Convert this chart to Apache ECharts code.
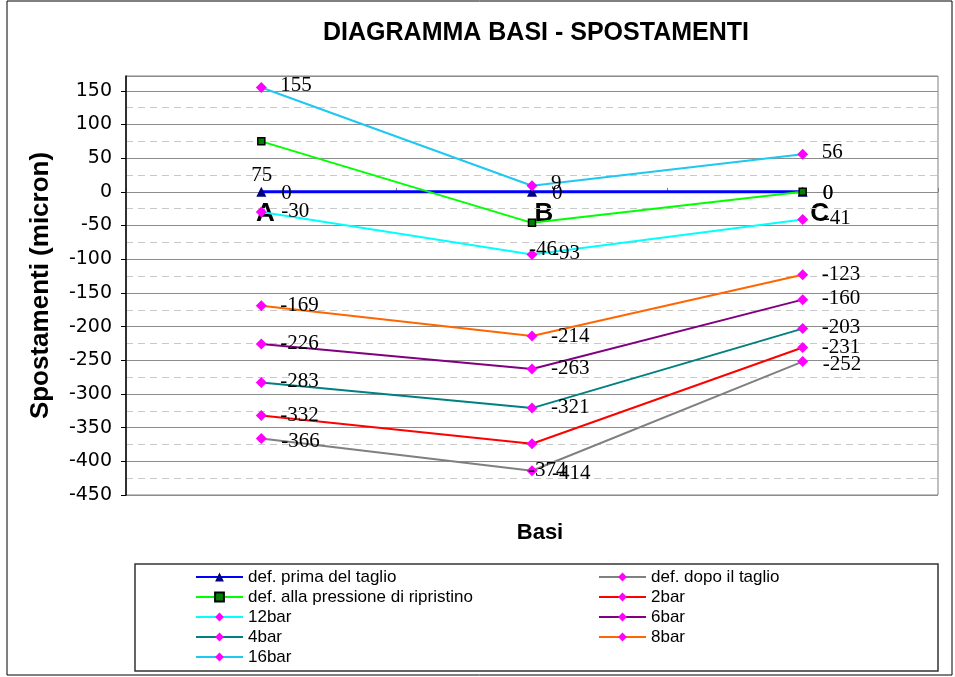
<!DOCTYPE html>
<html>
<head>
<meta charset="utf-8">
<title>Diagramma basi - spostamenti</title>
<script src="https://cdn.jsdelivr.net/npm/echarts@6/dist/echarts.min.js"></script>
<style>
  html, body { margin: 0; padding: 0; background: #ffffff; }
  #chart { width: 955px; height: 677px; }
</style>
</head>
<body>
<div id="chart"></div>
<script>
// ---- data ----
const categories = ['A', 'B', 'C'];

const yMin = -450;
const yMax = 172;
const yStep = 50;
const yMinorStep = 25;

const defPrimaDelTaglio = [0, 0, 0];
const defDopoIlTaglio = [-366, -414, -252];
const defPressioneRipristino = [75, -46, 0];
const bar2 = [-332, -374, -231];
const bar12 = [-30, -93, -41];
const bar6 = [-226, -263, -160];
const bar4 = [-283, -321, -203];
const bar8 = [-169, -214, -123];
const bar16 = [155, 9, 56];

const NAME_PRIMA = 'def. prima del taglio';
const NAME_DOPO = 'def. dopo il taglio';
const NAME_PRESS = 'def. alla pressione di ripristino';

// ---- styling ----
const SANS = "'Liberation Sans', Arial, sans-serif";
const SERIF = "'Liberation Serif', 'Times New Roman', serif";

const seriesDefs = [
  { name: NAME_PRIMA, values: defPrimaDelTaglio, line: '#0000ff', width: 3, symbol: 'triangle', size: 10, fill: '#000080', border: '#000080', borderWidth: 0, labelOffset: [20, 2] },
  { name: NAME_DOPO, values: defDopoIlTaglio, line: '#808080', width: 2, symbol: 'diamond', size: 11, fill: '#ff00ff', border: '#ff00ff', borderWidth: 0, labelOffset: [20, 3] },
  { name: NAME_PRESS, values: defPressioneRipristino, line: '#00ff00', width: 2, symbol: 'rect', size: 7, fill: '#008000', border: '#000000', borderWidth: 1.5, labelOffset: [20, 2] },
  { name: '2bar', values: bar2, line: '#ff0000', width: 2, symbol: 'diamond', size: 11, fill: '#ff00ff', border: '#ff00ff', borderWidth: 0, labelOffset: [19, 0] },
  { name: '12bar', values: bar12, line: '#00ffff', width: 2, symbol: 'diamond', size: 11, fill: '#ff00ff', border: '#ff00ff', borderWidth: 0, labelOffset: [20, -1] },
  { name: '6bar', values: bar6, line: '#800080', width: 2, symbol: 'diamond', size: 11, fill: '#ff00ff', border: '#ff00ff', borderWidth: 0, labelOffset: [19, -1] },
  { name: '4bar', values: bar4, line: '#008080', width: 2, symbol: 'diamond', size: 11, fill: '#ff00ff', border: '#ff00ff', borderWidth: 0, labelOffset: [19, -1] },
  { name: '8bar', values: bar8, line: '#ff6600', width: 2, symbol: 'diamond', size: 11, fill: '#ff00ff', border: '#ff00ff', borderWidth: 0, labelOffset: [19, 0] },
  { name: '16bar', values: bar16, line: '#1ec8f0', width: 2, symbol: 'diamond', size: 11, fill: '#ff00ff', border: '#ff00ff', borderWidth: 0, labelOffset: [19, -2] }
];

// label placements moved by hand away from the default spot (per point index)
const labelShifts = {
  [NAME_PRESS]: { 0: [-10, 34], 1: [-3, 27] },
  '2bar': { 1: [-4, 27] }
};

const legendLeftColumn = [NAME_PRIMA, NAME_PRESS, '12bar', '4bar', '16bar'];
const legendRightColumn = [NAME_DOPO, '2bar', '6bar', '8bar'];

function buildSeries(def) {
  const shifts = labelShifts[def.name] || {};
  return {
    name: def.name,
    type: 'line',
    xAxisIndex: 0,
    yAxisIndex: 0,
    symbol: def.symbol,
    symbolSize: def.size,
    showAllSymbol: true,
    lineStyle: { color: def.line, width: def.width },
    itemStyle: { color: def.fill, borderColor: def.border, borderWidth: def.borderWidth },
    emphasis: { disabled: true },
    label: {
      show: true,
      position: 'inside',
      align: 'left',
      verticalAlign: 'middle',
      fontFamily: SERIF,
      fontSize: 21,
      color: '#000000',
      textBorderWidth: 0,
      formatter: '{c}'
    },
    data: def.values.map((v, i) => ({
      value: v,
      label: { offset: shifts[i] || def.labelOffset }
    }))
  };
}

const catLabelStyle = (padLeft) => ({
  fontFamily: SANS, fontWeight: 'bold', fontSize: 26, color: '#000000',
  padding: [0, 0, 0, padLeft]
});

const legendCommon = {
  orient: 'vertical',
  top: 567,
  itemWidth: 47,
  itemHeight: 11,
  itemGap: 0,
  selectedMode: false,
  padding: 0,
  textStyle: { fontFamily: SANS, fontSize: 17, color: '#000000', lineHeight: 20 }
};

const option = {
  animation: false,
  backgroundColor: '#ffffff',
  title: {
    text: 'DIAGRAMMA BASI - SPOSTAMENTI',
    left: 536,
    top: 21,
    textAlign: 'center',
    padding: 0,
    textStyle: { fontFamily: SANS, fontWeight: 'bold', fontSize: 25, color: '#000000' }
  },
  grid: {
    left: 126,
    right: 17,
    top: 76,
    bottom: 182,
    show: true,
    borderColor: '#808080',
    borderWidth: 1,
    backgroundColor: 'transparent'
  },
  legend: [
    Object.assign({}, legendCommon, { left: 195, data: legendLeftColumn }),
    Object.assign({}, legendCommon, { left: 598, data: legendRightColumn })
  ],
  xAxis: [
    {
      // category axis carrying the data and the A / B / C labels under the zero line
      type: 'category',
      data: categories,
      boundaryGap: true,
      position: 'bottom',
      axisLine: { show: false, onZero: false },
      axisTick: { show: false },
      splitLine: { show: false },
      axisLabel: {
        margin: -294,
        fontFamily: SANS, fontWeight: 'bold', fontSize: 26, color: '#000000',
        formatter: (v, i) => `{c${i}|${v}}`,
        rich: { c0: catLabelStyle(8), c1: catLabelStyle(24), c2: catLabelStyle(34) }
      }
    },
    {
      // zero line with crossing ticks between categories
      type: 'category',
      data: categories,
      boundaryGap: true,
      axisLine: { show: true, onZero: true, lineStyle: { color: '#808080', width: 1 } },
      axisTick: { show: true, inside: false, length: 4, lineStyle: { color: '#808080' } },
      axisLabel: { show: false },
      splitLine: { show: false }
    }
  ],
  yAxis: [
    {
      type: 'value',
      min: yMin,
      max: yMax,
      interval: yStep,
      z: 2,
      axisLine: { show: true, onZero: false, lineStyle: { color: '#000000', width: 1.5 } },
      axisTick: { show: true, length: 5, lineStyle: { color: '#000000' } },
      axisLabel: {
        showMaxLabel: false,
        margin: 14,
        fontFamily: "'DejaVu Sans', sans-serif",
        fontSize: 19,
        color: '#000000'
      },
      splitLine: { show: true, lineStyle: { color: '#8c8c8c', width: 1 } },
      name: 'Spostamenti (micron)',
      nameLocation: 'middle',
      nameGap: 72,
      nameTextStyle: { fontFamily: SANS, fontWeight: 'bold', fontSize: 26, color: '#000000' }
    },
    {
      // dashed minor grid every 25 units
      type: 'value',
      min: yMin,
      max: yMax,
      interval: yMinorStep,
      z: 1,
      axisLine: { show: false, onZero: false },
      axisTick: { show: false },
      axisLabel: { show: false },
      splitLine: { show: true, lineStyle: { color: '#c8c8c8', width: 1, type: [7, 5] } }
    }
  ],
  graphic: [
    {
      type: 'rect',
      shape: { x: 7, y: 1, width: 945, height: 674 },
      style: { fill: 'transparent', stroke: '#000000', lineWidth: 1 },
      silent: true,
      z: -10
    },
    {
      type: 'rect',
      shape: { x: 135, y: 564, width: 803, height: 107 },
      style: { fill: 'transparent', stroke: '#333333', lineWidth: 1.5 },
      silent: true
    },
    {
      type: 'text',
      x: 540,
      y: 533,
      style: {
        text: 'Basi',
        align: 'center',
        verticalAlign: 'middle',
        fontFamily: SANS,
        fontWeight: 'bold',
        fontSize: 22,
        fill: '#000000'
      },
      silent: true
    }
  ],
  series: seriesDefs.map(buildSeries)
};

const chart = echarts.init(document.getElementById('chart'), null, { renderer: 'canvas' });
chart.setOption(option);
</script>
</body>
</html>
